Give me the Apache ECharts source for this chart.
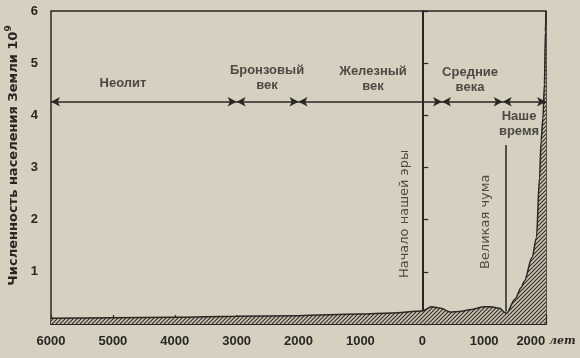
<!DOCTYPE html>
<html><head><meta charset="utf-8">
<script src="https://cdn.jsdelivr.net/npm/echarts@6/dist/echarts.min.js"></script>
<style>html,body{margin:0;padding:0;background:#d6d0c0;}#c{width:580px;height:358px;}</style>
</head><body><div id="c"></div>
<script>
// ---- data ----
const years = [-6000, -5000, -4000, -3000, -2000, -1000, -500, 0, 150, 300, 450, 600, 800, 1000, 1100, 1250, 1340, 1360, 1500, 1600, 1650, 1775, 1845, 1895, 1920, 1950, 1975, 1990, 2000];
const population = [0.11, 0.12, 0.13, 0.15, 0.16, 0.19, 0.21, 0.25, 0.33, 0.30, 0.23, 0.24, 0.28, 0.33, 0.33, 0.30, 0.22, 0.20, 0.48, 0.70, 0.82, 1.28, 1.65, 2.8, 3.5, 3.95, 4.6, 5.6, 6.0];
const xTickValues = [-6000, -5000, -4000, -3000, -2000, -1000, 0, 1000, 2000];
const xTickLabels = ['6000', '5000', '4000', '3000', '2000', '1000', '0', '1000', '2000 {u|лет}'];
const yTickValues = [1, 2, 3, 4, 5, 6];
const yTickLabels = ['1', '2', '3', '4', '5', '6'];
const eraNames = ['Неолит', 'Бронзовый\nвек', 'Железный\nвек', 'Средние\nвека', 'Наше\nвремя'];
const eraBounds = [-6000, -3000, -2000, 320, 1300, 2000];
const eraLevel = 4.26;
const eraLabelAnchors = [[-4836, 4.62], [-2509, 4.72], [-796, 4.69], [772, 4.67], [1564, 3.84]];
const eventNames = ['Начало нашей эры', 'Великая чума'];
const eventYears = [0, 1348];
const eventSpans = [[6, 0.36], [3.43, 0.24]];
const eventLabelAnchors = [[-279, 2.11], [1030, 1.96]];
const yAxisTitle = 'Численность населения Земли 10';
const yAxisPower = '9';

// ---- styles ----
const dark = '#2a2723';
const pc = document.createElement('canvas'); pc.width = 4; pc.height = 4;
const g = pc.getContext('2d');
g.fillStyle = '#cbc4b1'; g.fillRect(0, 0, 4, 4);
g.strokeStyle = '#302c27'; g.lineWidth = 1.1;
g.beginPath(); g.moveTo(0, 4); g.lineTo(4, 0); g.moveTo(-1, 1); g.lineTo(1, -1); g.moveTo(3, 5); g.lineTo(5, 3); g.stroke();

const markData = [];
for (let i = 0; i < eraNames.length; i++) {
  markData.push([{ coord: [eraBounds[i], eraLevel] }, { coord: [eraBounds[i + 1], eraLevel] }]);
}
for (let i = 0; i < eventYears.length; i++) {
  markData.push([{ coord: [eventYears[i], eventSpans[i][0]], symbol: 'none' }, { coord: [eventYears[i], eventSpans[i][1]], symbol: 'none' }]);
}

const chart = echarts.init(document.getElementById('c'));
chart.setOption({
  animation: false,
  backgroundColor: '#d6d0c0',
  grid: { left: 51, right: 34, top: 11, bottom: 34, show: true, borderColor: dark, borderWidth: 1.5, containLabel: false, outerBoundsMode: 'none' },
  xAxis: {
    type: 'value', min: -6000, max: 2000, interval: 1000,
    axisLine: { show: true, onZero: false, lineStyle: { color: dark, width: 2 } },
    axisTick: { show: true, inside: true, length: 9, lineStyle: { color: dark, width: 1.2 } },
    splitLine: { show: false },
    axisLabel: {
      showMinLabel: true, showMaxLabel: true, hideOverlap: false,
      formatter: v => { const i = xTickValues.indexOf(v); return i < 0 ? '' : xTickLabels[i]; },
      color: dark, fontFamily: 'Liberation Sans', fontWeight: 'bold', fontSize: 13, margin: 11,
      rich: { u: { fontFamily: 'DejaVu Serif', fontStyle: 'italic', fontWeight: 'bold', fontSize: 11, color: dark } }
    }
  },
  yAxis: {
    type: 'value', min: 0, max: 6, interval: 1,
    axisLine: { show: true, lineStyle: { color: dark, width: 2 } },
    axisTick: { show: true, inside: true, length: 6, lineStyle: { color: dark, width: 1.2 } },
    splitLine: { show: false },
    axisLabel: {
      formatter: v => { const i = yTickValues.indexOf(v); return i < 0 ? '' : yTickLabels[i]; },
      color: dark, fontFamily: 'Liberation Sans', fontWeight: 'bold', fontSize: 13, margin: 13
    },
    name: '{a|' + yAxisTitle + '}{s|' + yAxisPower + '}',
    nameLocation: 'middle', nameGap: 27,
    nameTextStyle: {
      padding: [0, 0, 0, 24],
      rich: {
        a: { fontFamily: 'DejaVu Sans', fontWeight: 'bold', fontSize: 13, color: dark, lineHeight: 18 },
        s: { fontFamily: 'DejaVu Sans', fontWeight: 'bold', fontSize: 9, color: dark, lineHeight: 18, verticalAlign: 'top' }
      }
    }
  },
  series: [
    {
      type: 'scatter', symbolSize: 0, silent: true, z: 1,
      data: eraNames.map((n, i) => ({ name: n, value: eraLabelAnchors[i] })),
      label: { show: true, position: 'inside', formatter: '{b}', color: dark, fontFamily: 'Liberation Sans', fontWeight: 'bold', fontSize: 13, lineHeight: 15 }
    },
    {
      type: 'scatter', symbolSize: 0, silent: true, z: 1,
      data: eventNames.map((n, i) => ({ name: n, value: eventLabelAnchors[i] })),
      label: { show: true, position: 'inside', rotate: 90, formatter: '{b}', color: dark, fontFamily: 'DejaVu Sans', fontSize: 13 }
    },
    {
      type: 'line', z: 3, symbol: 'none', smooth: 0.3, smoothMonotone: 'x',
      data: years.map((y, i) => [y, population[i]]),
      lineStyle: { color: dark, width: 1.5 },
      areaStyle: { color: { image: pc, repeat: 'repeat' }, opacity: 1 },
      markLine: {
        silent: true, animation: false,
        symbol: ['arrow', 'arrow'], symbolSize: [7, 9],
        label: { show: false },
        lineStyle: { color: dark, width: 1.5, type: 'solid' },
        data: markData
      }
    }
  ]
});
</script></body></html>
